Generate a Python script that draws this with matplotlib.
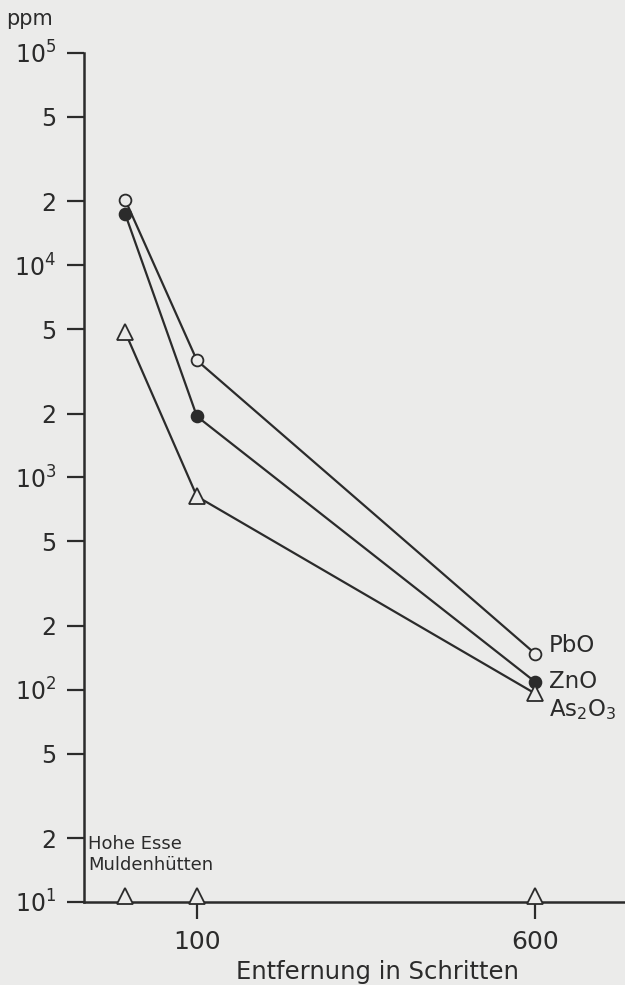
import matplotlib
matplotlib.use('Agg')
import matplotlib.pyplot as plt
from matplotlib.ticker import FixedLocator, FixedFormatter, NullLocator

plt.rcParams['font.family'] = ['DejaVu Sans']
plt.rcParams['mathtext.default'] = 'regular'

# distance from the chimney (steps) and concentrations (ppm)
distance = [-6, 100, 600]
pbo = [20300, 3560, 148]
zno = [17400, 1940, 109]
as2o3 = [4830, 814, 96]

ytick_vals = [10, 20, 50, 100, 200, 500, 1000, 2000, 5000,
              10000, 20000, 50000, 100000]
ytick_labels = ['10$^1$', '2', '5', '10$^2$', '2', '5', '10$^3$', '2', '5',
                '10$^4$', '2', '5', '10$^5$']
xtick_vals = [100, 600]
xtick_labels = ['100', '600']

bg = '#ebebea'
ink = '#2b2b2b'

fig = plt.figure(figsize=(6.25, 9.85), dpi=100, facecolor=bg)
ax = fig.add_axes([0.1344, 0.0843, 0.8656, 0.8619], facecolor=bg)

ax.set_yscale('log')
ax.set_ylim(10, 100000)
ax.set_xlim(-67, 733)

ax.plot(distance, pbo, color=ink, lw=1.6, marker='o', ms=8.5,
        mfc=bg, mec=ink, mew=1.3, zorder=3)
ax.plot(distance, zno, color=ink, lw=1.6, marker='o', ms=8.5,
        mfc=ink, mec=ink, mew=1.3, zorder=3)
ax.plot(distance, as2o3, color=ink, lw=1.6, marker='^', ms=11,
        mfc=bg, mec=ink, mew=1.3, zorder=3)

# sampling points marked on the baseline
ax.plot(distance, [10.7] * len(distance), ls='none', marker='^', ms=11,
        mfc=bg, mec=ink, mew=1.3, clip_on=False, zorder=4)

# series labels at the right end
ax.text(620, 162, 'PbO', fontsize=16.5, color=ink, va='center', ha='left')
ax.text(620, 109, 'ZnO', fontsize=16.5, color=ink, va='center', ha='left')
ax.text(621, 81, 'As$_2$O$_3$', fontsize=16.5, color=ink, va='center', ha='left')

ax.text(-61, 16.8, 'Hohe Esse\nMuldenhütten', fontsize=13, color=ink,
        va='center', ha='left', linespacing=1.2)

ax.yaxis.set_major_locator(FixedLocator(ytick_vals))
ax.yaxis.set_major_formatter(FixedFormatter(ytick_labels))
ax.yaxis.set_minor_locator(NullLocator())
ax.xaxis.set_major_locator(FixedLocator(xtick_vals))
ax.xaxis.set_major_formatter(FixedFormatter(xtick_labels))

ax.tick_params(axis='y', direction='out', length=12, width=1.6,
               labelsize=17, pad=8, colors=ink)
ax.tick_params(axis='x', direction='out', length=12, width=1.6,
               labelsize=18, pad=8, colors=ink)

for side in ['top', 'right']:
    ax.spines[side].set_visible(False)
for side in ['left', 'bottom']:
    ax.spines[side].set_linewidth(1.8)
    ax.spines[side].set_color(ink)

ax.set_xlabel('Entfernung in Schritten', fontsize=17.5, color=ink)
ax.xaxis.set_label_coords(0.543, -0.068)
fig.text(0.010, 0.981, 'ppm', fontsize=15, color=ink, ha='left', va='center')

fig.savefig('out.png', dpi=100, facecolor=bg)
